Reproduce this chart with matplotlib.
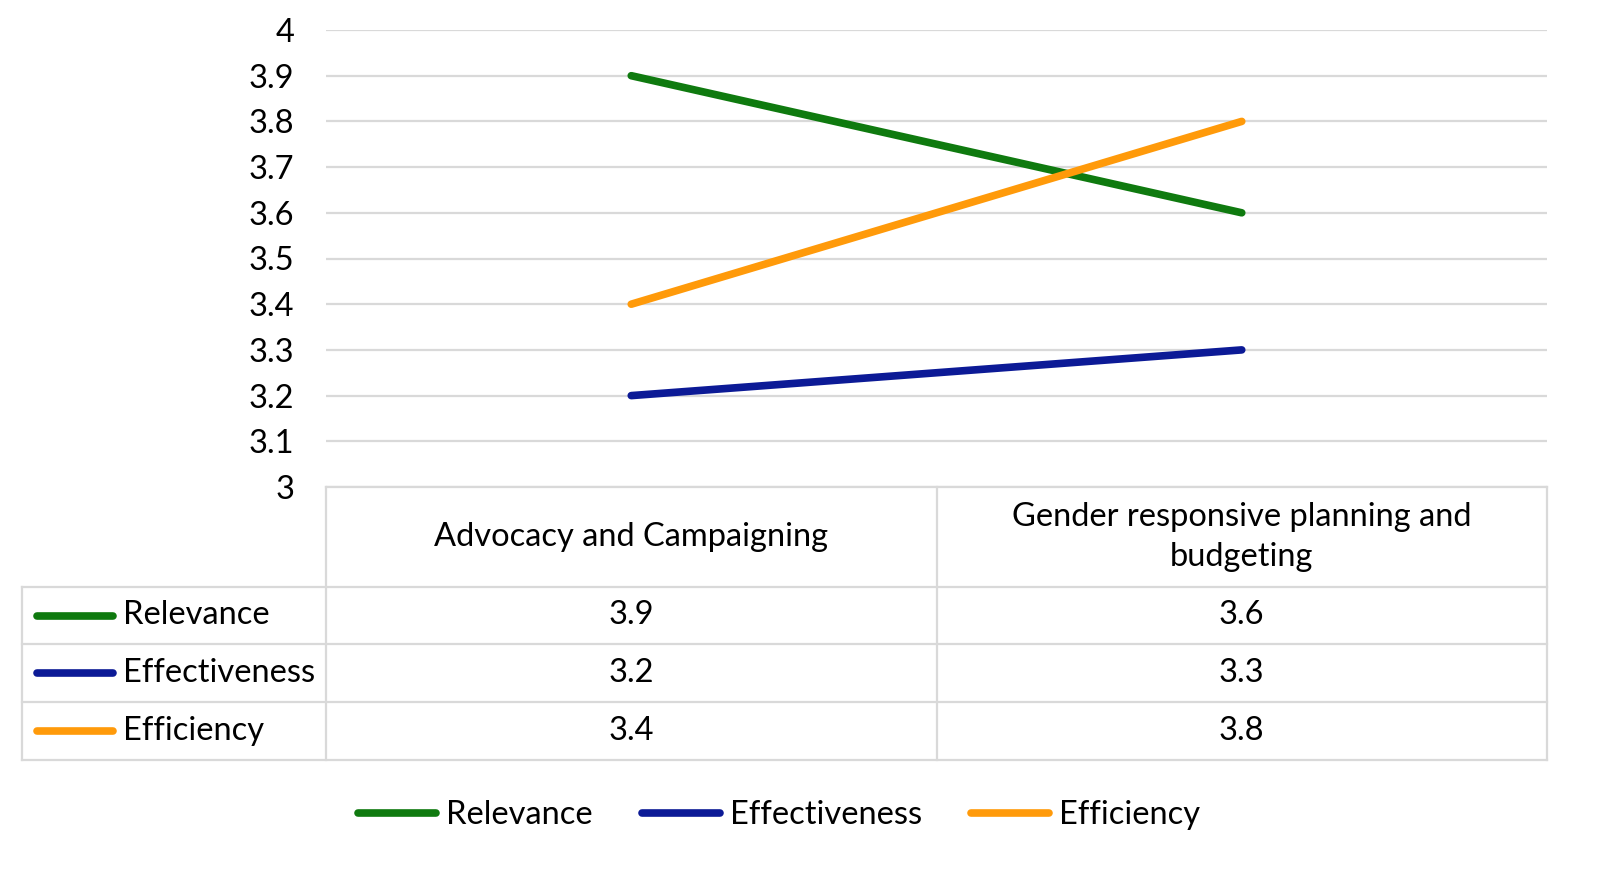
import matplotlib
matplotlib.use("Agg")
import matplotlib.pyplot as plt
from matplotlib.lines import Line2D
import matplotlib.transforms as mtransforms

categories = ["Advocacy and Campaigning", "Gender responsive planning and\nbudgeting"]
series_names = ["Relevance", "Effectiveness", "Efficiency"]
relevance = [3.9, 3.6]
effectiveness = [3.2, 3.3]
efficiency = [3.4, 3.8]
series_values = [relevance, effectiveness, efficiency]
colors = ["#0f7a0f", "#0c1a96", "#ff9a0a"]
yticks = [3.0, 3.1, 3.2, 3.3, 3.4, 3.5, 3.6, 3.7, 3.8, 3.9, 4.0]
ytick_labels = ["3", "3.1", "3.2", "3.3", "3.4", "3.5", "3.6", "3.7", "3.8", "3.9", "4"]

plt.rcParams['font.family'] = ['Lato', 'DejaVu Sans']
FS = 23.5
LW = 5.5
W, H = 1610, 885
fig = plt.figure(figsize=(W / 100, H / 100), dpi=100)

def fx(px):
    return px / W

def fy(py):
    return 1 - py / H

ax_l, ax_r, ax_t, ax_b = 326, 1547, 30, 487
ax = fig.add_axes([fx(ax_l), fy(ax_b), fx(ax_r - ax_l), (ax_b - ax_t) / H])
x = list(range(len(categories)))
for name, vals, c in zip(series_names, series_values, colors):
    ax.plot(x, vals, color=c, lw=LW, solid_capstyle='round', label=name, zorder=3)
ax.set_xlim(-0.5, len(categories) - 0.5)
ax.set_ylim(3, 4)
ax.set_yticks(yticks)
ax.set_yticklabels(ytick_labels, fontsize=FS)
ax.tick_params(axis='y', length=0, pad=23)
ax.set_xticks([])
for s in ax.spines.values():
    s.set_visible(False)
ax.grid(axis='y', color='#d9d9d9', lw=1.6, zorder=0)
ax.set_axisbelow(True)

# table
gc = '#d9d9d9'
lw = 1.6
def hline(y, x0, x1):
    fig.add_artist(Line2D([fx(x0), fx(x1)], [fy(y), fy(y)], color=gc, lw=lw))
def vline(xp, y0, y1):
    fig.add_artist(Line2D([fx(xp), fx(xp)], [fy(y0), fy(y1)], color=gc, lw=lw))

rows = [587, 644, 702, 760]
hline(487, 326, 1547)
for r in rows:
    hline(r, 22, 1547)
vline(22, 587, 760)
vline(326, 487, 760)
vline(937, 487, 760)
vline(1547, 487, 760)

trans = mtransforms.blended_transform_factory(ax.transData, fig.transFigure)
for i, cat in enumerate(categories):
    fig.text(i, fy(537), cat, transform=trans, ha='center', va='center',
             fontsize=FS, linespacing=1.4)

for j, (name, vals, c) in enumerate(zip(series_names, series_values, colors)):
    yc = (rows[j] + rows[j + 1]) / 2
    fig.add_artist(Line2D([fx(37), fx(113)], [fy(yc), fy(yc)], color=c, lw=LW,
                          solid_capstyle='round'))
    fig.text(fx(123), fy(yc), name, ha='left', va='center', fontsize=FS)
    for i, v in enumerate(vals):
        fig.text(i, fy(yc), f"{v:.1f}", transform=trans, ha='center', va='center', fontsize=FS)

handles = [Line2D([0], [0], color=c, lw=LW, solid_capstyle='round') for c in colors]
fig.legend(handles, series_names, loc='center', bbox_to_anchor=(fx(779), fy(815)),
           ncol=3, frameon=False, fontsize=FS, handlelength=2.4, handletextpad=0.3,
           columnspacing=1.5)

fig.savefig("out.png", dpi=100)
